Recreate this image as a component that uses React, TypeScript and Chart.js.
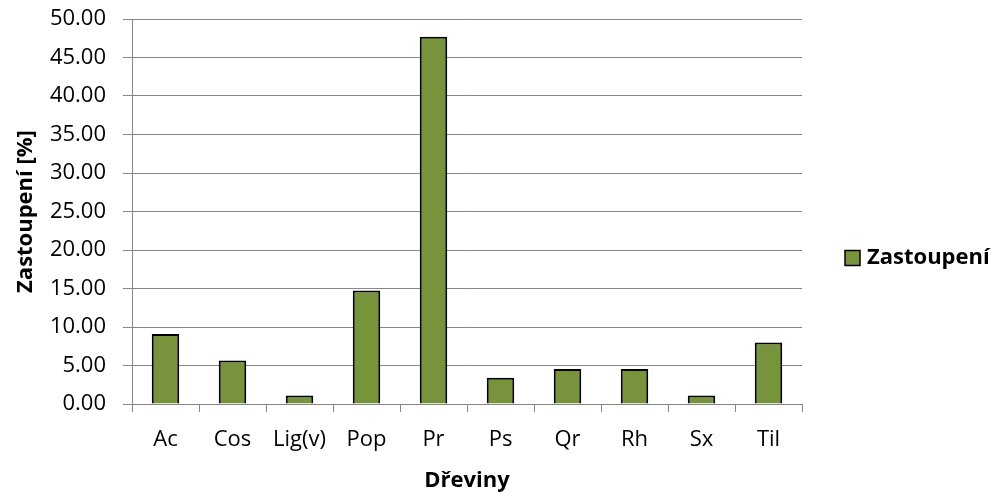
import React, { useEffect, useRef } from "react";
import { Chart, registerables } from "chart.js";

Chart.register(...registerables);

const categories = ["Ac", "Cos", "Lig(v)", "Pop", "Pr", "Ps", "Qr", "Rh", "Sx", "Til"];
const values = [9.09, 5.66, 1.12, 14.75, 47.7, 3.42, 4.55, 4.55, 1.12, 8.0];
const seriesName = "Zastoupení";
const yTitle = "Zastoupení [%]";
const xTitle = "Dřeviny";

const FONT = "'Open Sans', 'Noto Sans', sans-serif";
const GREEN = "#77933C";
const GRID = "#868686";

const legendPlugin = {
  id: "customLegend",
  afterDraw(chart: any) {
    const { ctx, chartArea } = chart;
    const x = chartArea.right + 43;
    const cy = chart.height / 2 + 9;
    ctx.save();
    ctx.fillStyle = GREEN;
    ctx.fillRect(x, cy - 7.5, 15, 15);
    ctx.strokeStyle = "#000";
    ctx.lineWidth = 1.5;
    ctx.strokeRect(x, cy - 7.5, 15, 15);
    ctx.fillStyle = "#000";
    ctx.font = `bold 22px ${FONT}`;
    ctx.textBaseline = "middle";
    ctx.textAlign = "left";
    ctx.fillText(seriesName, x + 22, cy);
    ctx.restore();
  },
};

export default function App() {
  const ref = useRef<HTMLCanvasElement | null>(null);
  useEffect(() => {
    document.body.style.margin = "0";
    const chart = new Chart(ref.current!, {
      type: "bar",
      data: {
        labels: categories,
        datasets: [
          {
            label: seriesName,
            data: values,
            backgroundColor: GREEN,
            borderColor: "#000",
            borderWidth: 2,
            categoryPercentage: 1,
            barPercentage: 0.41,
          },
        ],
      },
      options: {
        animation: false,
        responsive: true,
        maintainAspectRatio: false,
        layout: { padding: { top: 19, right: 191, left: 0, bottom: 0 } },
        plugins: { legend: { display: false }, tooltip: { enabled: false } },
        scales: {
          x: {
            afterFit: (s: any) => {
              s.height = 94;
              s.paddingLeft = 0;
              s.paddingRight = 0;
            },
            grid: {
              display: true,
              offset: true,
              drawOnChartArea: false,
              tickLength: 8,
              color: GRID,
            },
            border: { display: true, color: GRID, width: 1 },
            ticks: { color: "#000", font: { family: FONT, size: 22 }, padding: 15 },
            title: {
              display: true,
              text: xTitle,
              color: "#000",
              font: { family: FONT, size: 22, weight: "bold" },
              padding: { top: 0, bottom: 4 },
            },
          },
          y: {
            min: 0,
            max: 50,
            afterFit: (s: any) => {
              s.width = 132;
              s.paddingTop = 0;
              s.paddingBottom = 0;
            },
            grid: { color: GRID, tickLength: 9, lineWidth: 1 },
            border: { display: true, color: GRID, width: 1 },
            ticks: {
              stepSize: 5,
              color: "#000",
              font: { family: FONT, size: 22 },
              padding: 17,
              callback: (v: any) => Number(v).toFixed(2),
            },
            title: {
              display: true,
              text: yTitle,
              color: "#000",
              font: { family: FONT, size: 22, weight: "bold" },
              padding: { top: 13, bottom: 0 },
            },
          },
        },
      },
      plugins: [legendPlugin],
    });
    return () => chart.destroy();
  }, []);
  return (
    <div style={{ position: "absolute", left: 0, top: 0, width: 993, height: 498 }}>
      <canvas ref={ref} />
    </div>
  );
}
